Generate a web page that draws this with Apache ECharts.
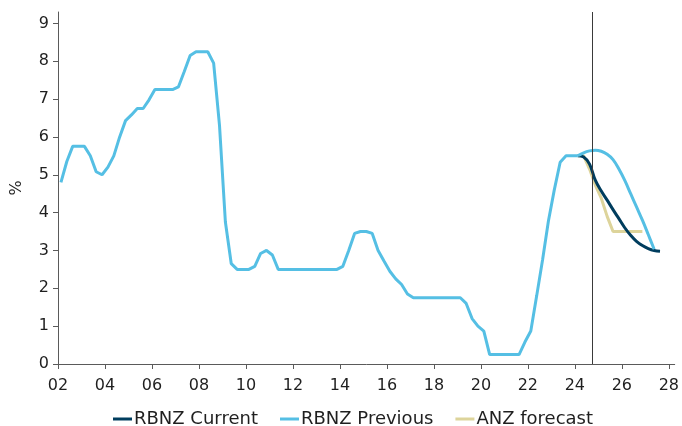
<!DOCTYPE html>
<html>
<head>
<meta charset="utf-8">
<script src="https://cdn.jsdelivr.net/npm/echarts@6/dist/echarts.min.js"></script>
<style>
  html, body { margin: 0; padding: 0; background: #ffffff; }
  #chart { width: 682px; height: 426px; }
</style>
</head>
<body>
<div id="chart"></div>
<script>
// Official Cash Rate, quarterly averages (%), first point = 2002 Q1
const historyStart = 2002.125;
const ocrHistory = [
  4.8, 5.35, 5.75, 5.75,
  5.75, 5.5, 5.08, 5.0,
  5.2, 5.5, 6.0, 6.43,
  6.58, 6.75, 6.75, 6.98,
  7.25, 7.25, 7.25, 7.25,
  7.32, 7.73, 8.15, 8.25,
  8.25, 8.25, 7.95, 6.3,
  3.75, 2.65, 2.5, 2.5,
  2.5, 2.58, 2.92, 3.0,
  2.88, 2.5, 2.5, 2.5,
  2.5, 2.5, 2.5, 2.5,
  2.5, 2.5, 2.5, 2.5,
  2.58, 3.0, 3.45, 3.5,
  3.5, 3.45, 3.0, 2.72,
  2.45, 2.25, 2.1, 1.85,
  1.75, 1.75, 1.75, 1.75,
  1.75, 1.75, 1.75, 1.75,
  1.75, 1.6, 1.2, 1.0,
  0.87, 0.25, 0.25, 0.25,
  0.25, 0.25, 0.25, 0.58,
  0.87, 1.8, 2.75, 3.78,
  4.6, 5.33, 5.5, 5.5,
  5.5
];

// Projections, quarterly, first point = 2024 Q1
const projectionStart = 2024.125;
const rbnzCurrent = [5.5, 5.47, 5.28, 4.85, 4.57, 4.33, 4.08, 3.84, 3.6, 3.4, 3.24, 3.13, 3.05, 3.0, 2.98];
const rbnzPrevious = [5.5, 5.58, 5.63, 5.65, 5.62, 5.54, 5.4, 5.15, 4.85, 4.5, 4.15, 3.8, 3.42, 3.03];
const anzForecast = [5.5, 5.5, 5.15, 4.72, 4.38, 3.9, 3.5, 3.5, 3.5, 3.5, 3.5, 3.5];

// Latest Monetary Policy Statement
const mpsDate = 2024.75;

// Axis ticks
const xTickValues = [2002, 2004, 2006, 2008, 2010, 2012, 2014, 2016, 2018, 2020, 2022, 2024, 2026, 2028];
const xTickLabels = ['02', '04', '06', '08', '10', '12', '14', '16', '18', '20', '22', '24', '26', '28'];
const yTickValues = [0, 1, 2, 3, 4, 5, 6, 7, 8, 9];
const yTickLabels = ['0', '1', '2', '3', '4', '5', '6', '7', '8', '9'];

const colors = {
  current: '#003d5e',
  previous: '#55bfe4',
  anz: '#ddd49b'
};

function quarterly(start, values) {
  return values.map((v, i) => [start + i * 0.25, v]);
}

const font = 'DejaVu Sans, Verdana, sans-serif';
const axisColor = '#5a5a5a';
const textColor = '#1f1f1f';

const chart = echarts.init(document.getElementById('chart'), null, { renderer: 'canvas' });

chart.setOption({
  animation: false,
  backgroundColor: '#ffffff',
  textStyle: { fontFamily: font },
  grid: { left: 58, right: 6, top: 12, bottom: 62 },
  legend: {
    data: ['RBNZ Current', 'RBNZ Previous', 'ANZ forecast'],
    left: 108,
    top: 405,
    icon: 'rect',
    itemWidth: 19,
    itemHeight: 3,
    itemGap: 22,
    textStyle: { fontFamily: font, fontSize: 18, color: textColor, padding: [0, 0, 0, -3] }
  },
  xAxis: {
    type: 'value',
    min: 2002,
    max: 2028.25,
    interval: 2,
    axisLine: { show: true, onZero: false, lineStyle: { color: axisColor, width: 1 } },
    axisTick: { show: true, length: 5, customValues: xTickValues, lineStyle: { color: axisColor } },
    axisLabel: {
      customValues: xTickValues,
      formatter: v => xTickLabels[xTickValues.indexOf(v)] ?? '',
      fontFamily: font, fontSize: 16, color: textColor, margin: 14
    },
    splitLine: { show: false }
  },
  yAxis: {
    type: 'value',
    min: 0,
    max: 9.3,
    interval: 1,
    name: '%',
    nameLocation: 'middle',
    nameRotate: 90,
    nameGap: 33,
    nameTextStyle: { fontFamily: font, fontSize: 16, color: textColor },
    axisLine: { show: true, lineStyle: { color: axisColor, width: 1 } },
    axisTick: { show: true, length: 5, customValues: yTickValues, lineStyle: { color: axisColor } },
    axisLabel: {
      customValues: yTickValues,
      formatter: v => yTickLabels[yTickValues.indexOf(v)] ?? '',
      fontFamily: font, fontSize: 16, color: textColor, margin: 9
    },
    splitLine: { show: false }
  },
  series: [
    {
      name: 'ANZ forecast',
      type: 'line',
      data: quarterly(projectionStart, anzForecast),
      showSymbol: false,
      lineStyle: { color: colors.anz, width: 3 },
      itemStyle: { color: colors.anz },
      markLine: {
        silent: true,
        symbol: 'none',
        label: { show: false },
        lineStyle: { color: '#3a3a3a', width: 1, type: 'solid' },
        data: [{ xAxis: mpsDate }]
      }
    },
    {
      name: 'RBNZ Current',
      type: 'line',
      data: quarterly(projectionStart, rbnzCurrent),
      showSymbol: false,
      smooth: 0.4,
      lineStyle: { color: colors.current, width: 3 },
      itemStyle: { color: colors.current }
    },
    {
      name: 'RBNZ Previous',
      type: 'line',
      data: quarterly(historyStart, ocrHistory),
      showSymbol: false,
      lineStyle: { color: colors.previous, width: 3 },
      itemStyle: { color: colors.previous }
    },
    {
      name: 'RBNZ Previous',
      type: 'line',
      data: quarterly(projectionStart, rbnzPrevious),
      showSymbol: false,
      smooth: 0.4,
      lineStyle: { color: colors.previous, width: 3 },
      itemStyle: { color: colors.previous }
    }
  ]
});
</script>
</body>
</html>
